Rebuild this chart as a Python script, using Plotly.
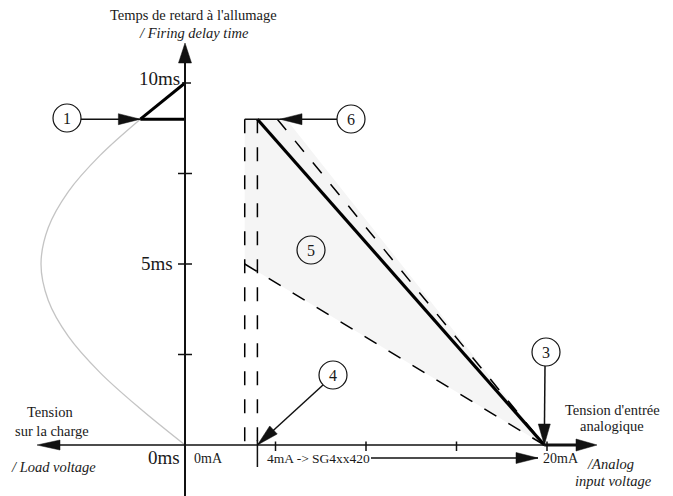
import math
import plotly.graph_objects as go

# ---------------- data ----------------
# Firing delay time axis (ms) and analog input axis (mA)
delay_ticks_ms = [2.5, 5, 7.5]
delay_top_ms = 10
delay_labels = ["10ms", "5ms", "0ms"]
input_ticks_mA = [5, 10, 15, 20]

# Load-voltage half wave (relative amplitude) vs delay time
load_t_ms = [0, 1, 2, 3, 4, 5, 6, 7, 8, 9]
load_v = [0.0, 0.31, 0.59, 0.81, 0.95, 1.0, 0.95, 0.81, 0.59, 0.31]
firing_t_ms = [9, 10]
firing_v = [0.31, 0.0]
firing_level_v = [0.31, 0.0]
firing_level_ms = [9, 9]

# Delay characteristic vs analog input
solid_mA = [4.0, 19.85]
solid_ms = [9, 0]
upper_dash_mA = [5.1, 19.85]
upper_dash_ms = [9, 0]
lower_dash_mA = [3.3, 19.85]
lower_dash_ms = [5.0, 0]
left_dash_mA = [3.3, 3.3]
right_dash_mA = [4.0, 4.0]
vert_dash_ms = [9, 0]
shade_mA = [3.3, 5.6, 19.85, 3.3, 3.3]
shade_ms = [9, 9, 0, 5.0, 9]

# ---------------- geometry ----------------
OFF = 8                   # page body margin of the html page
WIN_W, WIN_H = 673, 496
W, H = WIN_W - OFF, WIN_H - OFF
X0, PXMA = 185, 18.1      # window pixel of 0 mA, pixels per mA
Y0, PXMS = 445, 36.2      # window pixel of 0 ms, pixels per ms
PXV = 144                 # pixels per unit load voltage

def mA(px):
    return (px - X0) / PXMA

def ms(py):
    return (Y0 - py) / PXMS

def vv(px):
    return (X0 - px) / PXV

def PX(x):
    return (x - OFF) / W

def PY(y):
    return 1 - (y - OFF) / H

FONT = "Liberation Serif, Times New Roman, serif"
INK = "#111111"
TXT = "#1a1a1a"

fig = go.Figure()

# shaded tolerance area
fig.add_trace(go.Scatter(x=shade_mA, y=shade_ms, mode="lines", fill="toself",
                         fillcolor="#f5f5f5", line=dict(width=0), hoverinfo="skip"))
# load voltage curve
fig.add_trace(go.Scatter(x=load_v, y=load_t_ms, xaxis="x2", mode="lines",
                         line=dict(color="#c4c4c4", width=1.3, shape="spline"), hoverinfo="skip"))
fig.add_trace(go.Scatter(x=firing_v, y=firing_t_ms, xaxis="x2", mode="lines",
                         line=dict(color="black", width=3), hoverinfo="skip"))
fig.add_trace(go.Scatter(x=firing_level_v, y=firing_level_ms, xaxis="x2", mode="lines",
                         line=dict(color="black", width=3), hoverinfo="skip"))
# dashed limits
dash = "14px,14px"
for xs, ys in [(left_dash_mA, vert_dash_ms), (right_dash_mA, vert_dash_ms),
               (upper_dash_mA, upper_dash_ms), (lower_dash_mA, lower_dash_ms)]:
    fig.add_trace(go.Scatter(x=xs, y=ys, mode="lines",
                             line=dict(color="black", width=1.5, dash=dash), hoverinfo="skip"))
# solid characteristic
fig.add_trace(go.Scatter(x=solid_mA, y=solid_ms, mode="lines",
                         line=dict(color="black", width=3.2), hoverinfo="skip"))

shapes = []

def line(x0, y0, x1, y1, xref="x", yref="y", width=1.5, color=INK):
    shapes.append(dict(type="line", xref=xref, yref=yref, x0=x0, y0=y0, x1=x1, y1=y1,
                       line=dict(color=color, width=width)))

def head(x, y, dx, dy, L=22, w=5.5, xref="x", yref="y"):
    # dx, dy: direction in screen pixels with y up
    n = math.hypot(dx, dy)
    ux, uy = dx / n, dy / n
    bx, by = -L * ux, -L * uy
    px_, py_ = -uy * w, ux * w
    path = "M0,0 L{:.2f},{:.2f} L{:.2f},{:.2f} Z".format(bx + px_, by + py_, bx - px_, by - py_)
    shapes.append(dict(type="path", xref=xref, yref=yref, xsizemode="pixel", ysizemode="pixel",
                       xanchor=x, yanchor=y, path=path, fillcolor=INK,
                       line=dict(color=INK, width=0.5)))

def tick(x, y, a, b, horizontal=True, width=1.5):
    if horizontal:  # tick on y-axis, spans pixels a..b in x
        shapes.append(dict(type="line", xref="x", yref="y", xsizemode="pixel", xanchor=x,
                           x0=a, x1=b, y0=y, y1=y, line=dict(color=INK, width=width)))
    else:           # tick on x-axis, spans pixels a..b in y
        shapes.append(dict(type="line", xref="x", yref="y", ysizemode="pixel", yanchor=y,
                           y0=a, y1=b, x0=x, x1=x, line=dict(color=INK, width=width)))

# axes
line(0, ms(WIN_H + 2), 0, ms(60), width=2)
head(0, ms(43), 0, 1, L=20, w=6.5)
line(vv(55), 0, 0, 0, xref="x2", width=1.5)
head(vv(37), 0, -1, 0, L=23, w=5, xref="x2")
line(0, 0, mA(580), 0, width=1.5)
line(solid_mA[-1], 0, mA(578), 0, width=3)
head(mA(597), 0, 1, 0, L=21, w=6)

for t in delay_ticks_ms:
    tick(0, t, -7, 7)
tick(0, delay_top_ms, -3, 6)
for m in input_ticks_mA:
    tick(m, 0, 3.5, -6, horizontal=False)
tick(4, 0, 5, -22, horizontal=False)

# circled callouts
circles = {"1": (67, 118), "6": (351, 119), "5": (311, 250), "4": (333, 375), "3": (546, 352)}
R = 14
for k, (cx, cy) in circles.items():
    shapes.append(dict(type="circle", xref="paper", yref="paper",
                       x0=PX(cx - R), x1=PX(cx + R), y0=PY(cy + R), y1=PY(cy - R),
                       line=dict(color=INK, width=1.2)))

# callout arrows
line(vv(81), 9, firing_v[0], 9, xref="x2")
head(firing_v[0], 9, 1, 0, xref="x2")
line(left_dash_mA[0], 9, mA(337), 9)
head(mA(280), 9, -1, 0)
line(mA(323), ms(385), 4, 0)
head(4, 0, -(333 - 258), -(445 - 375))
line(mA(545), ms(366), solid_mA[-1], 0)
head(solid_mA[-1], 0, 0, -1, L=21, w=6)
line(mA(371), ms(458), mA(538), ms(458))
head(mA(538), ms(458), 1, 0, L=22, w=5.5)

annotations = []

def text(x, y, s, size=14.5, xanchor="center", italic=False):
    if italic:
        s = "<i>" + s + "</i>"
    annotations.append(dict(x=PX(x), y=PY(y), xref="paper", yref="paper", text=s,
                            showarrow=False, xanchor=xanchor, yanchor="middle",
                            font=dict(family=FONT, size=size, color=TXT)))

for k, (cx, cy) in circles.items():
    text(cx, cy + 0.5, k, size=16)

text(193, 15, "Temps de retard à l'allumage")
text(194, 33, "/ Firing delay time", italic=True)
text(182, 79, delay_labels[0], size=19, xanchor="right")
text(175, 263, delay_labels[1], size=19, xanchor="right")
text(182, 457, delay_labels[2], size=19, xanchor="right")
text(192, 458, "0mA", size=14, xanchor="left")
text(265, 458, "4mA -> SG4xx420", size=13.5, xanchor="left")
text(541, 458, "20mA", size=14, xanchor="left")
text(50, 412, "Tension")
text(52, 431, "sur la charge")
text(53, 467, "/ Load voltage", italic=True)
text(612, 410, "Tension d'entrée")
text(612, 426, "analogique")
text(585, 464, "/Analog", xanchor="left", italic=True)
text(613, 481, "input voltage", italic=True)

fig.update_layout(
    width=W, height=H, margin=dict(l=0, r=0, t=0, b=0),
    paper_bgcolor="white", plot_bgcolor="white", showlegend=False,
    xaxis=dict(range=[-(X0 - OFF) / PXMA, (WIN_W - X0) / PXMA], visible=False, fixedrange=True),
    xaxis2=dict(range=[(X0 - OFF) / PXV, -(WIN_W - X0) / PXV], overlaying="x", visible=False,
                fixedrange=True),
    yaxis=dict(range=[-(WIN_H - Y0) / PXMS, (Y0 - OFF) / PXMS], visible=False, fixedrange=True),
    shapes=shapes, annotations=annotations,
)

fig.write_html("out.html", config={"displayModeBar": False})
